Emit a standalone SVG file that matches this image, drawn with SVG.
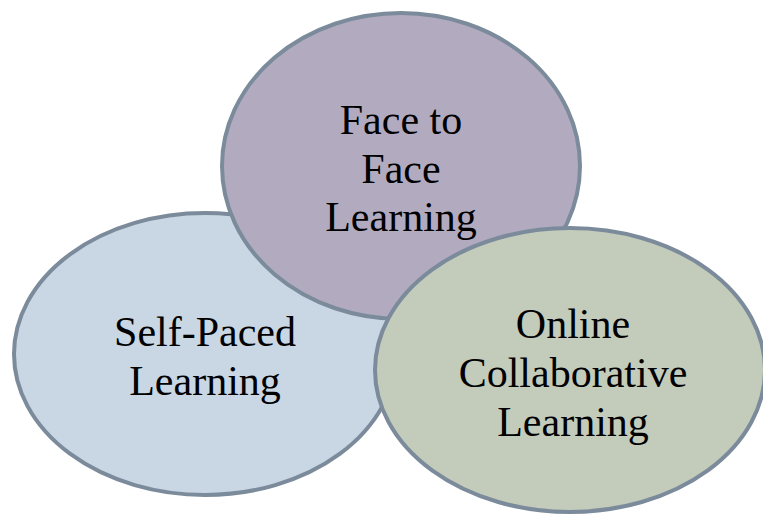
<svg xmlns="http://www.w3.org/2000/svg" width="763" height="516" viewBox="0 0 763 516">
<style>
.n{stroke:#7b8b9b;stroke-width:4}
.t{font-family:"Liberation Serif","Times New Roman",serif;font-size:42px;fill:#000;text-anchor:middle}
</style>
<rect width="763" height="516" fill="#fff"/>
<g id="self-paced">
<ellipse class="n" cx="205" cy="354" rx="191" ry="141" fill="#c9d6e3"/>
<text class="t" x="205" y="346">Self-Paced</text>
<text class="t" x="205" y="395">Learning</text>
</g>
<g id="face-to-face">
<ellipse class="n" cx="401" cy="166" rx="179" ry="153" fill="#b2abc0"/>
<text class="t" x="401" y="134">Face to</text>
<text class="t" x="401" y="183">Face</text>
<text class="t" x="401" y="231">Learning</text>
</g>
<g id="online">
<ellipse class="n" cx="570" cy="370" rx="195" ry="142" fill="#c3cbbb"/>
<text class="t" x="573" y="338">Online</text>
<text class="t" x="573" y="387">Collaborative</text>
<text class="t" x="573" y="436">Learning</text>
</g>
<g id="connectors"/>
</svg>
